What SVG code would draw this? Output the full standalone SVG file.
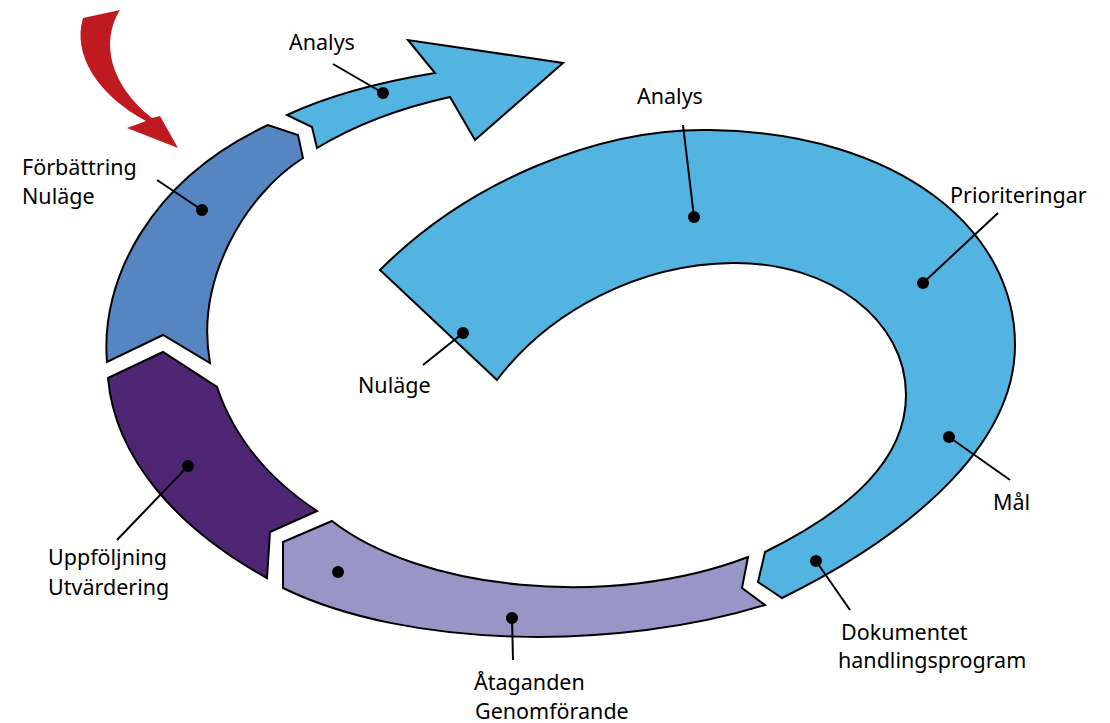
<svg xmlns="http://www.w3.org/2000/svg" width="1110" height="723" viewBox="0 0 1110 723">
<style>
.seg{stroke:#000;stroke-width:2;stroke-linejoin:miter}
.lbl{font-family:"Noto Sans","Open Sans",sans-serif;font-size:21.5px;fill:#000}
.lead{stroke:#000;stroke-width:2;fill:none}
.dot{fill:#000}
</style>
<rect width="1110" height="723" fill="#fff"/>
<g id="red-arrow">
<path d="M83,18 L120,10 C 100,42 110,85 152,118 L160,116 L178,148 L127,128 L146,121 C 98,95 72,55 83,18 Z" fill="#be1a20"/>
</g>
<g id="forbattring">
<path class="seg" fill="#5686c1" d="M107,362 C 100,280 150,180 268,125 L298,135 L303,158 C 245,195 195,280 210,363 L163,335 Z"/>
</g>
<g id="uppfoljning">
<path class="seg" fill="#4f2674" d="M108,378 L163,352 L217,387 C 235,440 270,480 317,511 L270,532 L267,578 C 180,530 115,460 108,378 Z"/>
</g>
<g id="ataganden">
<path class="seg" fill="#9896c6" d="M283,542 L332,521 C 420,590 610,610 748,557 L742,588 L765,605 C 620,650 410,650 283,588 Z"/>
</g>
<g id="analys-arrow">
<path class="seg" fill="#53b3e1" d="M287,115 C 330,95 380,82 435,73 L408,40 L563,63 L475,140 L450,97 C 400,108 355,125 317,148 L312,127 Z"/>
</g>
<g id="big-cycle">
<path class="seg" fill="#53b3e1" d="M380,270 C 470,180 600,128 710,130 C 900,133 1015,230 1015,345 C 1015,450 900,540 782,598 L758,582 L765,552 C 850,510 906,460 906,395 C 906,320 830,262 733,263 C 640,264 550,310 497,380 Z"/>
</g>
<g id="connectors">
<line class="lead" x1="333" y1="64" x2="383" y2="93"/>
<circle class="dot" cx="383" cy="93" r="6"/>
<line class="lead" x1="157" y1="180" x2="202" y2="210"/>
<circle class="dot" cx="202" cy="210" r="6"/>
<line class="lead" x1="683" y1="125" x2="694" y2="217"/>
<circle class="dot" cx="694" cy="217" r="6"/>
<line class="lead" x1="998" y1="213" x2="923" y2="283"/>
<circle class="dot" cx="923" cy="283" r="6"/>
<line class="lead" x1="423" y1="365" x2="463" y2="333"/>
<circle class="dot" cx="463" cy="333" r="6"/>
<line class="lead" x1="117" y1="540" x2="188" y2="466"/>
<circle class="dot" cx="188" cy="466" r="6"/>
<line class="lead" x1="1010" y1="480" x2="949" y2="437"/>
<circle class="dot" cx="949" cy="437" r="6"/>
<line class="lead" x1="850" y1="610" x2="816" y2="561"/>
<circle class="dot" cx="816" cy="561" r="6"/>
<line class="lead" x1="513" y1="660" x2="512" y2="618"/>
<circle class="dot" cx="512" cy="618" r="6"/>
<circle class="dot" cx="338" cy="572" r="6"/>
</g>
<g id="labels">
<text class="lbl" x="289" y="50">Analys</text>
<text class="lbl" x="22" y="175">Förbättring</text>
<text class="lbl" x="22" y="204">Nuläge</text>
<text class="lbl" x="637" y="104">Analys</text>
<text class="lbl" x="950" y="203">Prioriteringar</text>
<text class="lbl" x="358" y="393">Nuläge</text>
<text class="lbl" x="48" y="565">Uppföljning</text>
<text class="lbl" x="48" y="595">Utvärdering</text>
<text class="lbl" x="993" y="510">Mål</text>
<text class="lbl" x="841" y="640">Dokumentet</text>
<text class="lbl" x="838" y="668">handlingsprogram</text>
<text class="lbl" x="474" y="690">Åtaganden</text>
<text class="lbl" x="475" y="719">Genomförande</text>
</g>
</svg>
